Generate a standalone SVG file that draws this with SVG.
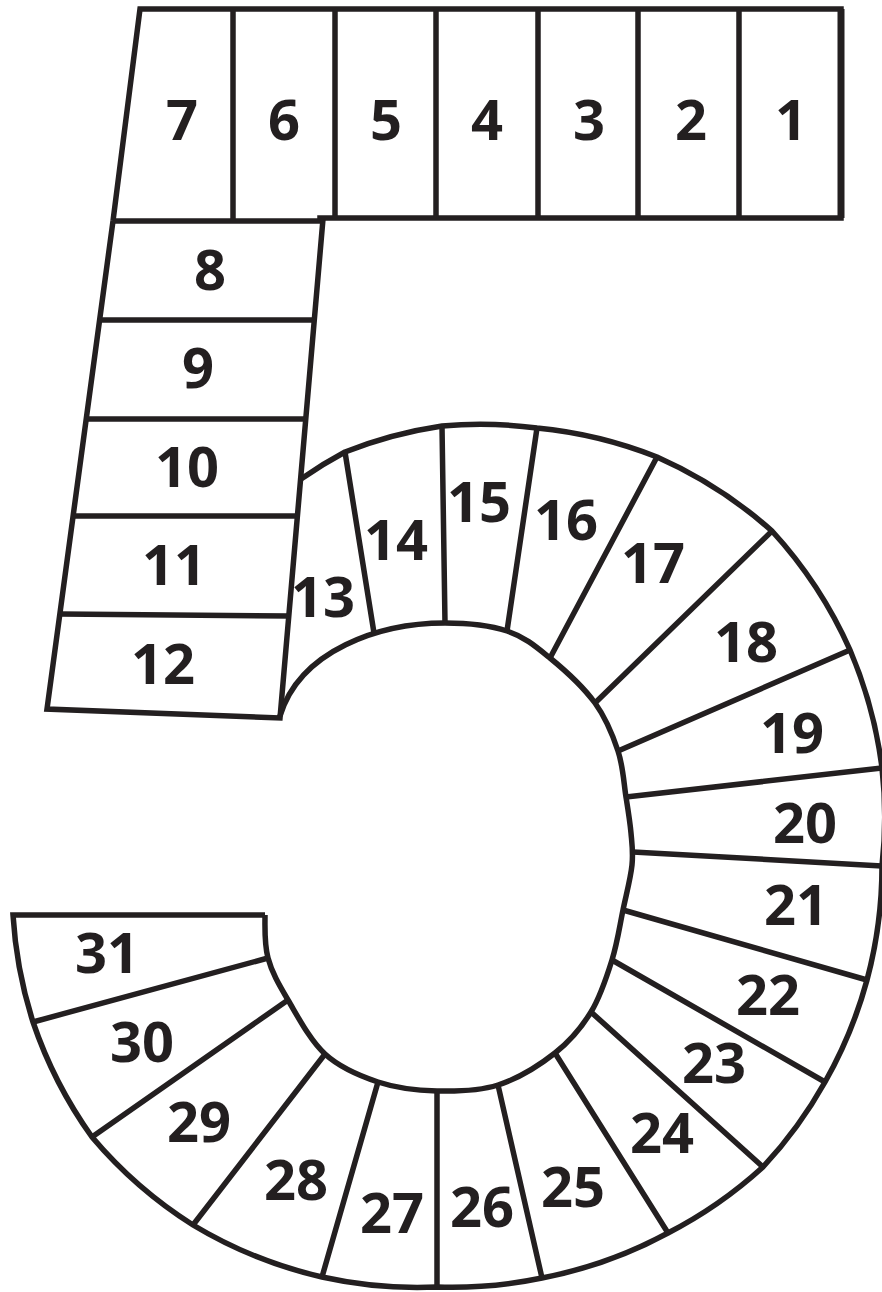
<svg xmlns="http://www.w3.org/2000/svg" width="882" height="1292" viewBox="0 0 882 1292">
<style>
.l{fill:none;stroke:#231f20;stroke-width:5.5;stroke-linejoin:miter;stroke-linecap:butt}
.t{font-family:"Open Sans","Noto Sans","DejaVu Sans",sans-serif;font-weight:bold;font-size:56px;fill:#231f20;text-anchor:middle}
</style>
<rect width="882" height="1292" fill="#fff"/>
<g id="flight-top">
<path class="l" d="M113,221 L140,9 L841,9 L841,218 L320,218 L320,221 L113,221"/>
<path class="l" d="M841,9 L841,218" style="stroke-width:7"/>
<path class="l" d="M233,9 V221 M335,9 V218 M436,9 V218 M538,9 V218 M638,9 V218 M739,9 V218"/>
<text class="t" x="182" y="140">7</text>
<text class="t" x="284" y="140">6</text>
<text class="t" x="386" y="140">5</text>
<text class="t" x="487" y="140">4</text>
<text class="t" x="589" y="140">3</text>
<text class="t" x="691" y="140">2</text>
<text class="t" x="791" y="140">1</text>
</g>
<g id="flight-left">
<path class="l" d="M113,221 L47,709 L280,718 L323,219"/>
<path class="l" d="M100,320 H314 M86,419 H306 M73,516 H297 M60,614 L289,616"/>
<text class="t" x="210" y="290">8</text>
<text class="t" x="198" y="388">9</text>
<text class="t" x="187" y="487">10</text>
<text class="t" x="174" y="585">11</text>
<text class="t" x="163" y="684">12</text>
</g>
<g id="winder">
<path class="l" d="M301,479 A440,440 0 0 1 345,452 A440,440 0 0 1 442,426 A440,440 0 0 1 537,428 A440,440 0 0 1 657,457 A440,440 0 0 1 772,531 A440,440 0 0 1 850,650 A440,440 0 0 1 882,768 A440,440 0 0 1 882,866 A440,440 0 0 1 867,980 A440,440 0 0 1 825,1082 A440,440 0 0 1 763,1167 A440,440 0 0 1 668,1233 A440,440 0 0 1 542,1278 A440,440 0 0 1 437,1287 A440,440 0 0 1 322,1277 A440,440 0 0 1 193,1225 A440,440 0 0 1 92,1137 A440,440 0 0 1 33,1022 A440,440 0 0 1 13,915 L265,915"/>
<path class="l" d="M280,716 C300,650 380,623 445,623 C467.3,623 489.5,625.2 507,631 C524.5,636.8 535.3,646 550,658 C564.7,670 583.7,687.5 595,703 C606.3,718.5 612.8,735.3 618,751 C623.2,766.7 623.8,783.3 626,797 C628.2,810.7 630,821.7 631,833 C632,844.3 633.3,852.2 632,865 C630.7,877.8 626.3,894.2 623,910 C619.7,925.8 617.3,943 612,960 C606.7,977 600.5,996.5 591,1012 C581.5,1027.5 570.5,1040.8 555,1053 C539.5,1065.2 517.7,1078.7 498,1085 C478.3,1091.3 457,1091.5 437,1091 C417,1090.5 396.7,1088.2 378,1082 C359.3,1075.8 340,1067.7 325,1054 C310,1040.3 297.5,1016 288,1000 C278.5,984 271.8,972.2 268,958 C264.2,943.8 265,929.3 265,915"/>
<path class="l" d="M374,633 L345,452 M445,623 L442,426 M507,631 L537,428 M550,658 L657,457 M595,703 L772,531 M618,751 L850,650 M626,797 L882,768 M633,852 L882,866 M623,910 L867,980 M612,960 L825,1082 M591,1012 L763,1167 M555,1053 L668,1233 M498,1085 L542,1278 M437,1091 L437,1287 M378,1082 L322,1277 M325,1054 L193,1225 M288,1000 L92,1137 M268,958 L33,1022"/>
<text class="t" x="323" y="617">13</text>
<text class="t" x="396" y="560">14</text>
<text class="t" x="479" y="522">15</text>
<text class="t" x="566" y="540">16</text>
<text class="t" x="653" y="583">17</text>
<text class="t" x="746" y="662">18</text>
<text class="t" x="792" y="753">19</text>
<text class="t" x="805" y="843">20</text>
<text class="t" x="796" y="925">21</text>
<text class="t" x="768" y="1015">22</text>
<text class="t" x="714" y="1083">23</text>
<text class="t" x="662" y="1153">24</text>
<text class="t" x="573" y="1207">25</text>
<text class="t" x="482" y="1227">26</text>
<text class="t" x="392" y="1233">27</text>
<text class="t" x="296" y="1200">28</text>
<text class="t" x="199" y="1142">29</text>
<text class="t" x="142" y="1062">30</text>
<text class="t" x="107" y="973">31</text>
</g>
</svg>
